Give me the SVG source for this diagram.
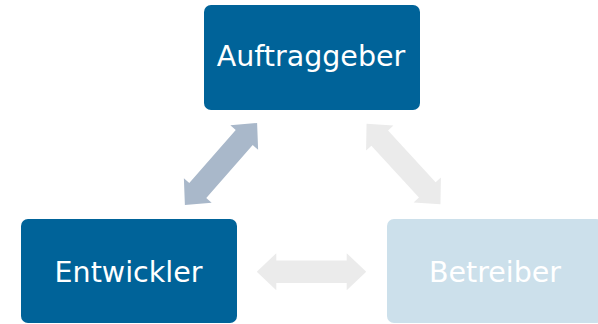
<svg xmlns="http://www.w3.org/2000/svg" width="598" height="324" viewBox="0 0 598 324">
<style>
.box{stroke:none}
.dark{fill:#006399}
.light{fill:#CCE0EB}
.lbl{font-family:"DejaVu Sans",Verdana,sans-serif;font-size:28.5px;fill:#FFFFFF;text-anchor:middle}
.arr-blue{fill:#A9B8CA}
.arr-grey{fill:#EBEBEB}
</style>
<defs>
<polygon id="dbl" points="-54.7,0 -35.2,-18.5 -35.2,-11.3 35.2,-11.3 35.2,-18.5 54.7,0 35.2,18.5 35.2,11.3 -35.2,11.3 -35.2,18.5"/>
</defs>
<g id="connectors">
<use href="#dbl" class="arr-blue" transform="translate(221,164) rotate(-48.7)"/>
<use href="#dbl" class="arr-grey" transform="translate(403.5,164) rotate(47.5)"/>
<use href="#dbl" class="arr-grey" transform="translate(311.5,271.7)"/>
</g>
<g id="auftraggeber">
<rect class="box dark" x="204" y="5" width="216" height="105" rx="7"/>
<text class="lbl" x="311" y="66">Auftraggeber</text>
</g>
<g id="entwickler">
<rect class="box dark" x="21" y="219" width="216" height="104" rx="7"/>
<text class="lbl" x="128.5" y="282">Entwickler</text>
</g>
<g id="betreiber">
<rect class="box light" x="387" y="219" width="216" height="104" rx="7"/>
<text class="lbl" x="495" y="281.5">Betreiber</text>
</g>
</svg>
